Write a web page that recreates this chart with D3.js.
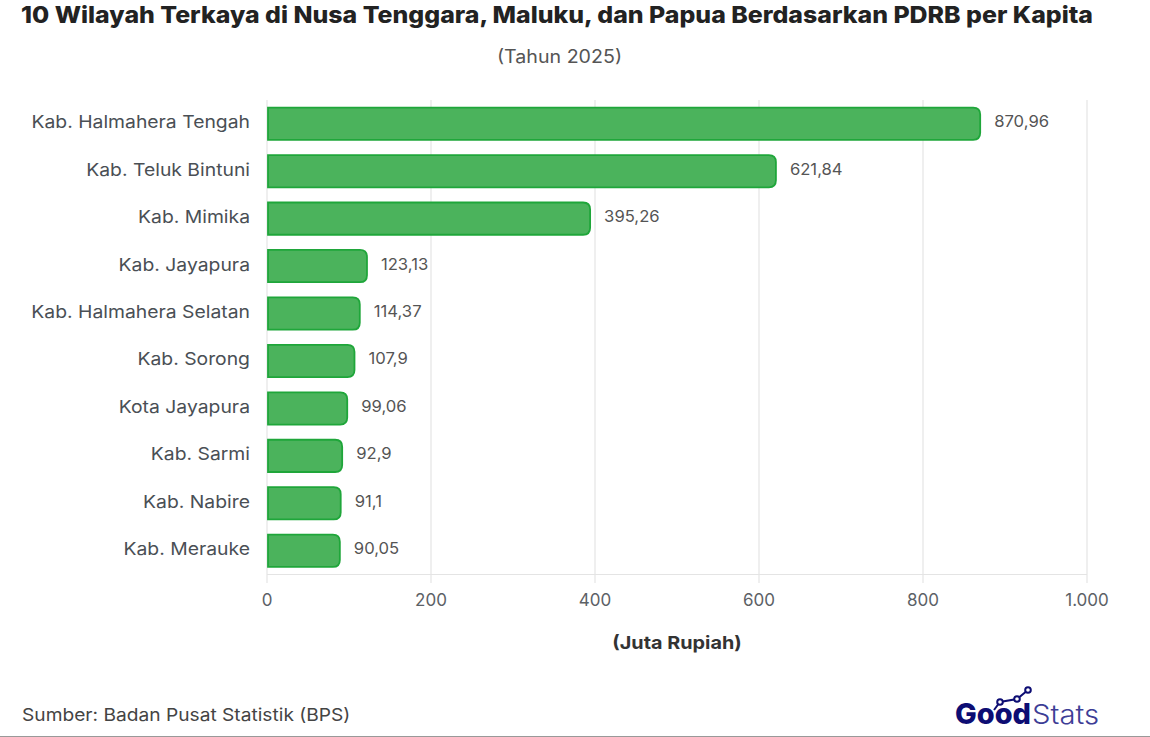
<!DOCTYPE html>
<html><head><meta charset="utf-8">
<script src="https://cdn.jsdelivr.net/npm/d3@7"></script>
<style>html,body{margin:0;padding:0;background:#fff;overflow:hidden}svg{display:block}text{font-family:Inter,"Open Sans",sans-serif}</style>
</head><body><div id="c"></div>
<script>
const categories=["Kab. Halmahera Tengah","Kab. Teluk Bintuni","Kab. Mimika","Kab. Jayapura","Kab. Halmahera Selatan","Kab. Sorong","Kota Jayapura","Kab. Sarmi","Kab. Nabire","Kab. Merauke"];
const values=[870.96,621.84,395.26,123.13,114.37,107.9,99.06,92.9,91.1,90.05];
const valueLabels=["870,96","621,84","395,26","123,13","114,37","107,9","99,06","92,9","91,1","90,05"];
const xTicks=[0,200,400,600,800,1000];
const xTickLabels=["0","200","400","600","800","1.000"];
const title="10 Wilayah Terkaya di Nusa Tenggara, Maluku, dan Papua Berdasarkan PDRB per Kapita";
const subtitle="(Tahun 2025)";
const xTitle="(Juta Rupiah)";
const source="Sumber: Badan Pusat Statistik (BPS)";

const W=1150,H=737;
const svg=d3.select("#c").append("svg").attr("width",W).attr("height",H).attr("viewBox",[0,0,W,H]);
const x=d3.scaleLinear().domain([0,1000]).range([267,1087]);
const y=d3.scaleBand().domain(categories).range([100,574.5]).paddingInner(0.32).paddingOuter(0.16);
const stretch=(sel,k)=>sel.each(function(){const n=this.getComputedTextLength();d3.select(this).attr("textLength",n*k).attr("lengthAdjust","spacingAndGlyphs");});

svg.append("text").attr("x",557).attr("y",23).attr("text-anchor","middle").attr("font-size",23).attr("font-weight",800).attr("fill","#222").attr("textLength",1072).attr("lengthAdjust","spacingAndGlyphs").text(title);
svg.append("text").attr("x",559.5).attr("y",63).attr("text-anchor","middle").attr("font-size",18).attr("fill","#555").text(subtitle).call(stretch,1.09);

const grid=svg.append("g");
grid.selectAll("line").data(xTicks).join("line")
  .attr("x1",d=>x(d)).attr("x2",d=>x(d)).attr("y1",100).attr("y2",583)
  .attr("stroke","#e4e4e4").attr("stroke-width",1.2);
grid.append("line").attr("x1",267).attr("x2",1087).attr("y1",574.5).attr("y2",574.5).attr("stroke","#e4e4e4").attr("stroke-width",1.2);

const r=7;
svg.append("g").selectAll("path").data(values).join("path")
  .attr("d",(d,i)=>{
    const x0=x(0)+1,x1=x(d)-1,y0=y(categories[i]),h=y.bandwidth();
    const p=d3.path();
    p.moveTo(x0,y0);p.lineTo(x1-r,y0);p.quadraticCurveTo(x1,y0,x1,y0+r);
    p.lineTo(x1,y0+h-r);p.quadraticCurveTo(x1,y0+h,x1-r,y0+h);p.lineTo(x0,y0+h);p.closePath();
    return p.toString();})
  .attr("fill","#4bb35c").attr("stroke","#1fa63a").attr("stroke-width",1.8);

svg.append("g").selectAll("text").data(categories).join("text")
  .attr("x",250).attr("y",d=>y(d)+y.bandwidth()/2+4.5).attr("text-anchor","end")
  .attr("font-size",17.5).attr("fill","#4a4f55").text(d=>d).call(stretch,1.105);

svg.append("g").selectAll("text").data(values).join("text")
  .attr("x",d=>x(d)+13).attr("y",(d,i)=>y(categories[i])+y.bandwidth()/2+3.5).attr("font-size",16).attr("fill","#555")
  .text((d,i)=>valueLabels[i]).call(stretch,1.04);

svg.append("g").selectAll("text").data(xTicks).join("text")
  .attr("x",d=>x(d)).attr("y",606).attr("text-anchor","middle").attr("font-size",17).attr("fill","#5c6166")
  .text((d,i)=>xTickLabels[i]);

svg.append("text").attr("x",677).attr("y",649).attr("text-anchor","middle").attr("font-size",18).attr("font-weight",700).attr("fill","#333").text(xTitle).call(stretch,1.1);
svg.append("text").attr("x",22).attr("y",721).attr("font-size",17.5).attr("fill","#444").text(source).call(stretch,1.095);

// logo
const logo=svg.append("g");
logo.append("text").attr("x",955).attr("y",724).attr("font-size",29).attr("font-weight",800).attr("fill","#0d0d73").attr("textLength",76).attr("lengthAdjust","spacingAndGlyphs").text("Good");
logo.append("text").attr("x",1032).attr("y",724).attr("font-size",27).attr("font-weight",300).attr("fill","#3d3d96").attr("textLength",67).attr("lengthAdjust","spacingAndGlyphs").text("Stats");
const logoPts=[[1000,702],[1017,699],[1028,690]];
logo.append("path").attr("d",d3.line()([[994,710],...logoPts])).attr("fill","none").attr("stroke","#0d0d73").attr("stroke-width",2);
logo.selectAll("circle").data(logoPts).join("circle").attr("cx",d=>d[0]).attr("cy",d=>d[1]).attr("r",2.8).attr("fill","#fff").attr("stroke","#0d0d73").attr("stroke-width",2);
svg.append("line").attr("x1",0).attr("x2",W).attr("y1",736.5).attr("y2",736.5).attr("stroke","#999").attr("stroke-width",1);
</script></body></html>
